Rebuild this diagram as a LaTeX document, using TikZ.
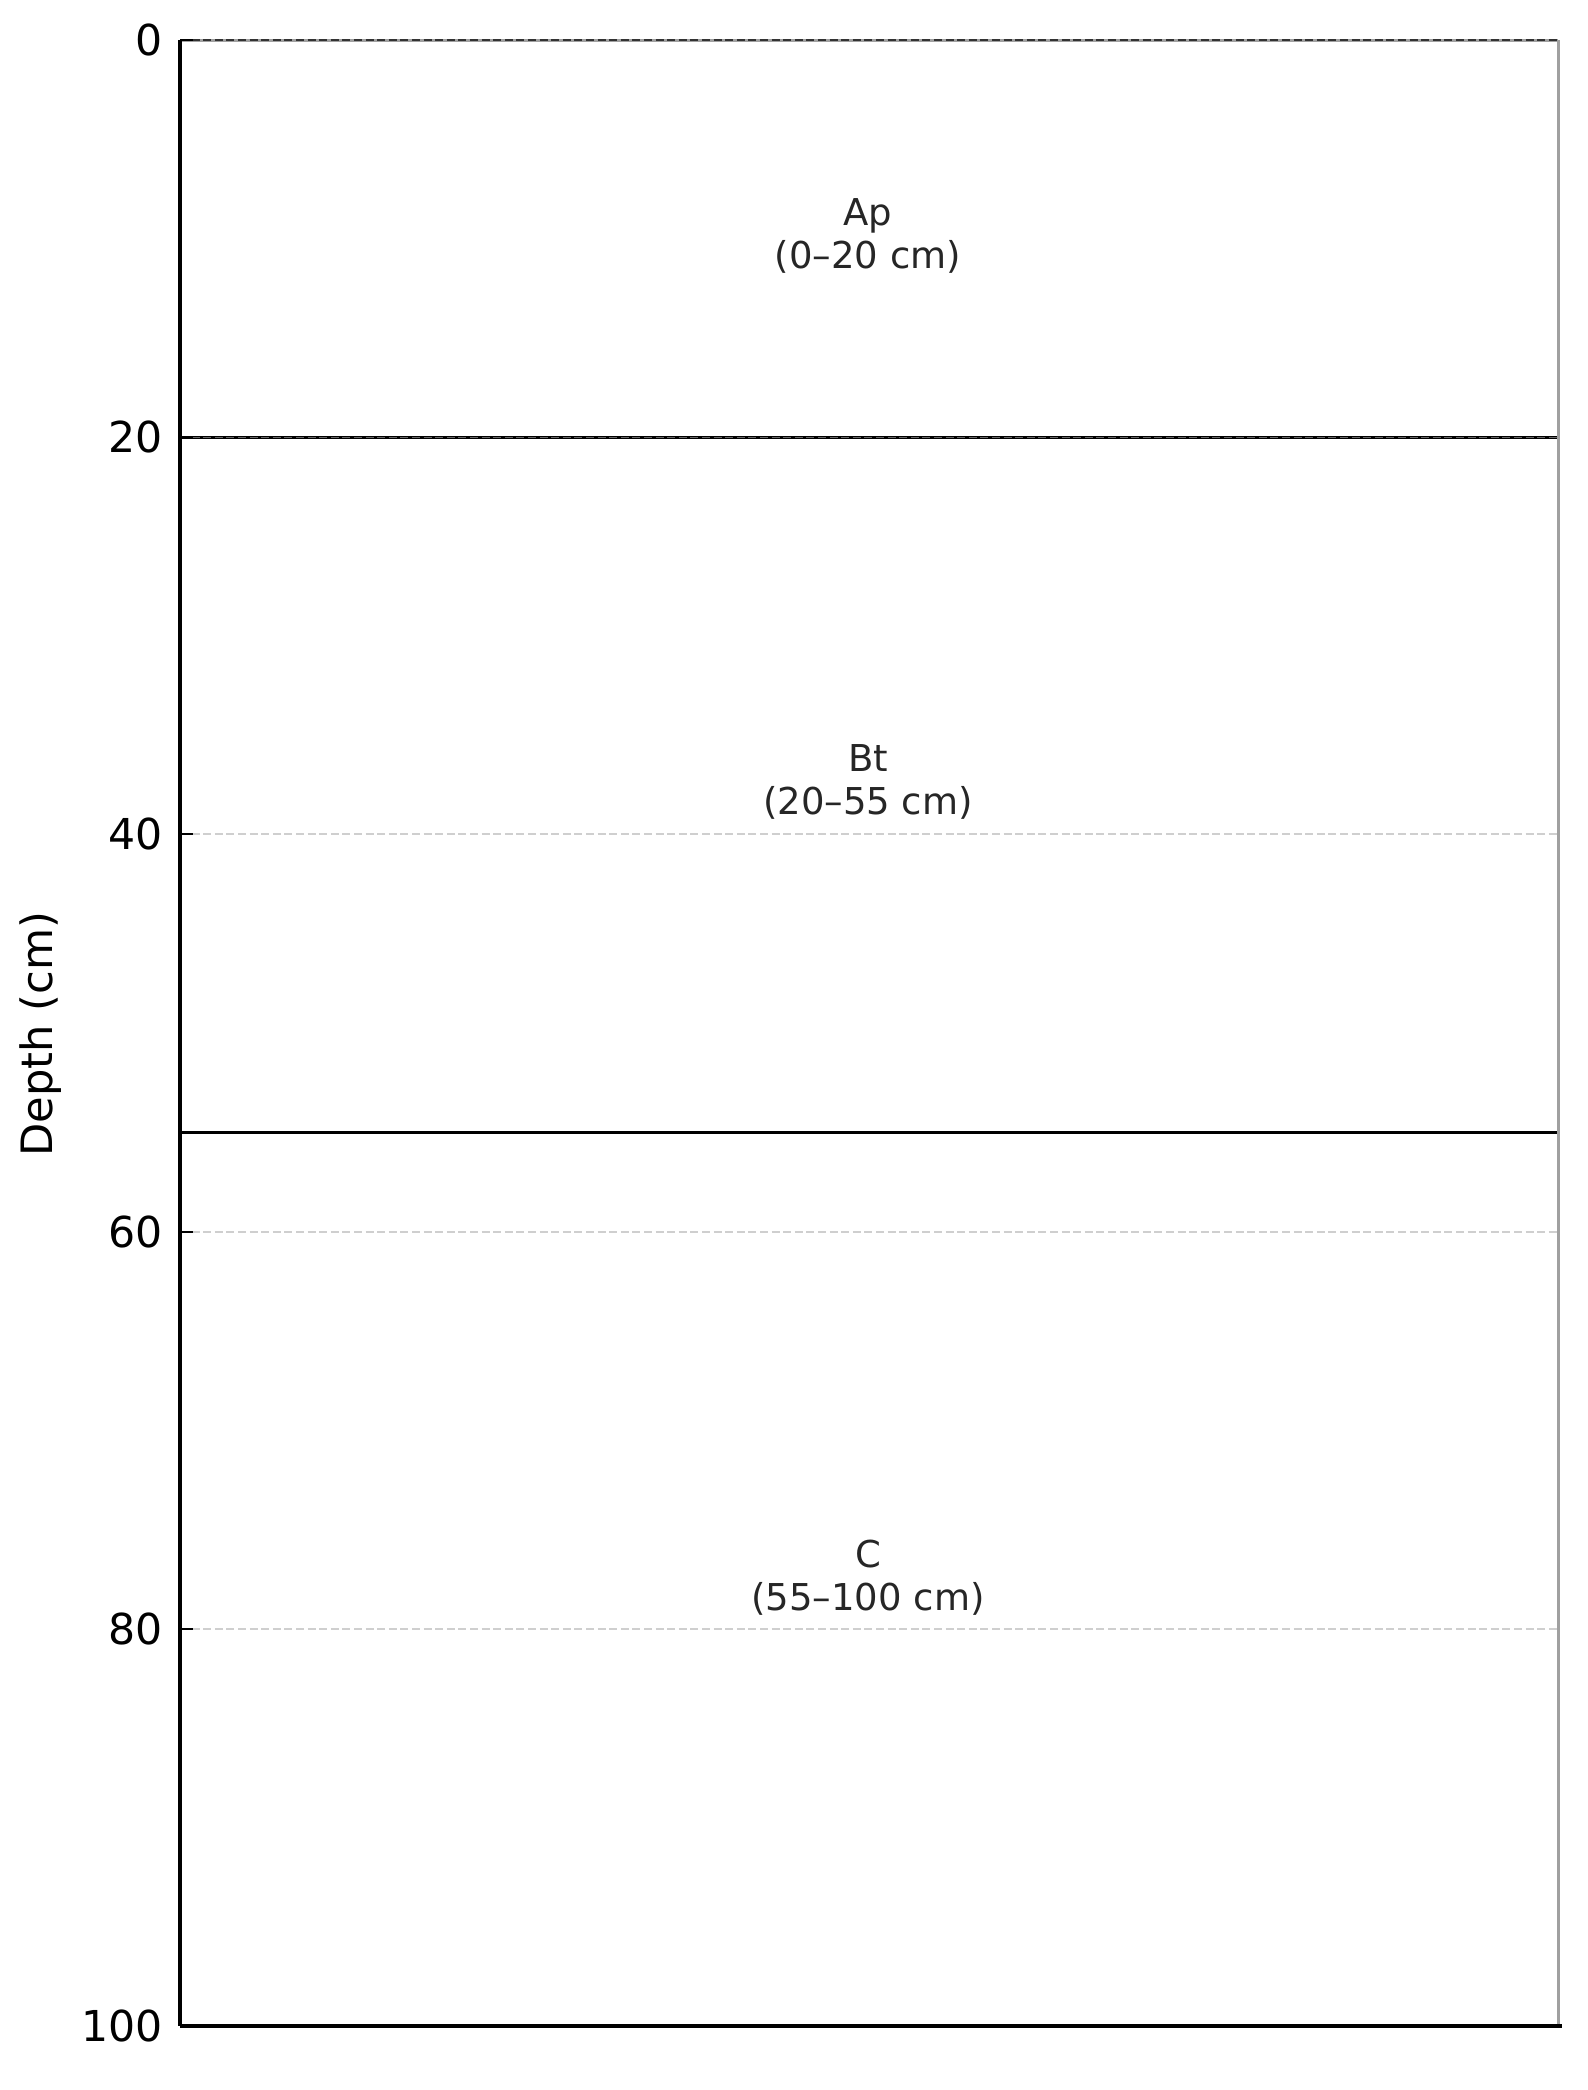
\documentclass[tikz,border=0pt]{standalone}
\usepackage{fontspec}
\setmainfont{DejaVu Sans}
\definecolor{gridgray}{HTML}{CFCFCF}
\definecolor{spinegray}{HTML}{A0A0A0}
\definecolor{textdark}{HTML}{262626}
\begin{document}
\begin{tikzpicture}[x=0.5pt,y=-0.5pt,
  ticklab/.style={anchor=east,inner sep=0pt,font=\fontsize{21.3}{25}\selectfont},
  horizonlab/.style={align=center,inner sep=0pt,text=textdark,font=\fontsize{18.5}{21.5}\selectfont},
  gridline/.style={gridgray,line width=1pt,dash pattern=on 4pt off 1.8pt},
  horizonline/.style={black,line width=1.5pt},
  tickmark/.style={black,line width=1pt},
  spineblack/.style={black,line width=1.6pt},
  spinegrayst/.style={spinegray,line width=1.5pt}]
\useasboundingbox (0,0) rectangle (1587,2090);
% axes corners
\coordinate (tl) at (180,40);
\coordinate (tr) at (1558,40);
\coordinate (bl) at (180,2026);
\coordinate (br) at (1558,2026);
% grid lines
\foreach \d in {40,60,80}{
  \draw[gridline] (180,{40+19.86*\d}) -- (1558,{40+19.86*\d});
}
% top spine and line at 0
\draw[spinegrayst] (tl) -- (tr);
\draw[black!80,line width=0.8pt,dash pattern=on 4pt off 1.8pt] (tl) -- (tr);
% horizon boundaries
\coordinate (h20l) at (180,437.2);
\coordinate (h20r) at (1558,437.2);
\coordinate (h55l) at (180,1132.3);
\coordinate (h55r) at (1558,1132.3);
\draw[horizonline] (h20l) -- (h20r);
\draw[gridline,black!60,line width=0.6pt] (h20l) -- (h20r);
\draw[horizonline] (h55l) -- (h55r);
% spines
\draw[spinegrayst] (tr) -- (br);
\draw[spineblack] (tl) -- (bl);
\draw[spineblack] (bl) -- ([xshift=2pt]br);
% ticks and tick labels
\foreach \d in {0,20,40,60,80,100}{
  \draw[tickmark] (180,{40+19.86*\d}) -- (193,{40+19.86*\d});
  \node[ticklab] (t\d) at (163,{40+19.86*\d}) {\d};
}
% axis label
\node[rotate=90,anchor=base,inner sep=0pt,font=\fontsize{21.6}{25}\selectfont] (ylab) at (52,1034) {Depth (cm)};
% horizon labels
\node[horizonlab] (ap) at (868,236) {Ap\\(0–20 cm)};
\node[horizonlab] (bt) at (868,782) {Bt\\(20–55 cm)};
\node[horizonlab] (c) at (868,1578) {C\\(55–100 cm)};
\end{tikzpicture}
\end{document}
